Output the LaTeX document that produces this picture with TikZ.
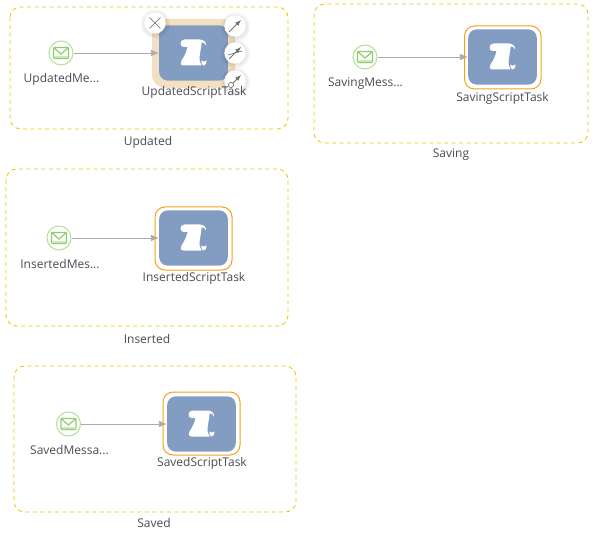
\documentclass[tikz,border=0pt]{standalone}
\usepackage{fontspec}
\setmainfont{Open Sans}
\usetikzlibrary{arrows.meta}
\definecolor{framey}{HTML}{EBC800}
\definecolor{taskblue}{HTML}{839DC2}
\definecolor{sel}{HTML}{F8A01C}
\definecolor{beige}{HTML}{F3DFC1}
\definecolor{evgreen}{HTML}{B4E09A}
\definecolor{envgreen}{HTML}{8CCF6C}
\definecolor{flow}{HTML}{ABABAB}
\definecolor{txt}{HTML}{4A4A55}
\tikzset{
 x=0.75pt,y=-0.75pt,
 frame/.style={draw=framey,dash pattern=on 3pt off 2.6pt,line width=0.65pt,rounded corners=8pt},
 lbl/.style={font=\fontsize{9pt}{11pt}\selectfont,text=txt,inner sep=0pt},
 ev/.style={circle,draw=evgreen,fill=white,line width=0.75pt,minimum size=18pt,inner sep=0pt},
 task/.style={rectangle,rounded corners=6.5pt,fill=taskblue,minimum width=51.5pt,minimum height=41.5pt,inner sep=0pt},
 flowline/.style={draw=flow,line width=0.6pt,-{Latex[length=6pt,width=5pt]}},
 ring/.style={draw=sel,line width=0.75pt,fill=white,rounded corners=7.5pt},
 tool/.style={circle,fill=white,minimum size=16pt,inner sep=0pt},
}
\newcommand{\scrollicon}[2]{%
 \begin{scope}[shift={(#1,#2)}]
 \fill[white] (-9,-13.5) -- (6,-13.5) .. controls (11,-13.5) and (13,-10) .. (12.5,-7.5)
   .. controls (11.5,-10) and (10,-11) .. (8.2,-10.5)
   -- (6.2,3) .. controls (5.8,7) and (6.2,10) .. (8,12.5)
   -- (-10,12.5) .. controls (-13,12.5) and (-13.5,9.5) .. (-12,7.5)
   .. controls (-9,3) and (-7,-1) .. (-6,-6)
   -- (-10,-6) .. controls (-14,-6) and (-14,-13.5) .. (-9,-13.5) -- cycle;
 \fill[white] (7.8,7.5) .. controls (9,9) and (11,9) .. (13,7.5)
   .. controls (13,11) and (11.5,12.5) .. (9.8,12.5)
   .. controls (8.3,12) and (7.6,10) .. (7.8,7.5) -- cycle;
 \end{scope}}
\newcommand{\envicon}[2]{%
 \begin{scope}[shift={(#1,#2)}]
 \draw[envgreen,line width=0.9pt,rounded corners=0.8pt,fill=white] (-7.5,-5.5) rectangle (7.5,5.5);
 \fill[envgreen!45] (-7,3.4) rectangle (7,5);
 \draw[envgreen,line width=0.9pt] (-7.5,-5.5) -- (0,1) -- (7.5,-5.5);
 \end{scope}}
\newcommand{\softshadow}[2]{%
 \foreach \r in {15,14.5,14,13.5,13,12.5,12,11.5}{\fill[black,opacity=0.012] (#1+0.5,#2+1) circle (\r);}}
\begin{document}
\begin{tikzpicture}
\useasboundingbox (0,0) rectangle (598,534);
% frames
\draw[frame] (10,7) rectangle (288,129);
\draw[frame] (314,4) rectangle (588,143);
\draw[frame] (6,169) rectangle (288,326);
\draw[frame] (14,366) rectangle (296,512);
\node[lbl] (lu) at (148,142) {Updated};
\node[lbl] (ls) at (451,155) {Saving};
\node[lbl] (li) at (147,338.5) {Inserted};
\node[lbl] (lv) at (154,523) {Saved};
% Updated
\fill[beige,rounded corners=10pt] (152,19) rectangle (235,88);
\node[task] (tu) at (193.5,53) {};
\scrollicon{193.5}{53}
\node[ev] (eu) at (61,53) {};
\envicon{61}{53}
\draw[flowline] (eu) -- (tu.west);
\node[lbl] (nu) at (61.5,79.5) {UpdatedMe...};
% Saving
\draw[ring] (464.5,26) rectangle (541,89);
\node[task] (ts) at (502.5,57) {};
\scrollicon{502.5}{57}
\node[ev] (es) at (365,57) {};
\envicon{365}{57}
\draw[flowline] (es) -- (ts.west);
\node[lbl] (ns) at (365.5,84) {SavingMess...};
\node[lbl] (ms) at (502.5,98) {SavingScriptTask};
% Inserted
\draw[ring] (155,207) rectangle (232,270);
\node[task] (ti) at (193.5,238) {};
\scrollicon{193.5}{238}
\node[ev] (ei) at (59,238) {};
\envicon{59}{238}
\draw[flowline] (ei) -- (ti.west);
\node[lbl] (ni) at (60,264.5) {InsertedMes...};
\node[lbl] (mi) at (194,278.5) {InsertedScriptTask};
% Saved
\draw[ring] (163,392) rectangle (240,455);
\node[task] (tv) at (201.5,424) {};
\scrollicon{201.5}{424}
\node[ev] (ev1) at (68.5,424) {};
\envicon{68.5}{424}
\draw[flowline] (ev1) -- (tv.west);
\node[lbl] (nv) at (69.5,450) {SavedMessa...};
\node[lbl] (mv) at (202,463.5) {SavedScriptTask};
% selection tools
\softshadow{155}{23}
\softshadow{235}{26}
\softshadow{235}{53}
\softshadow{235}{81}
\node[tool] (tx) at (155,23) {};
\draw[black!60,line width=0.45pt] (149.5,17.5) -- (160.5,28.5) (160.5,17.5) -- (149.5,28.5);
\node[tool] (t1) at (235,26) {};
\draw[black!55,line width=0.6pt,-{Latex[length=4.5pt,width=3.5pt]}] (229,32) -- (241,20);
\node[tool] (t2) at (235,53) {};
\draw[black!55,line width=0.6pt,-{Latex[length=4.5pt,width=3.5pt]}] (229,59) -- (241,47);
\draw[black!55,line width=0.5pt] (228,55) -- (242,51);
\node[tool] (t3) at (235,81) {};
\draw[black!55,line width=0.6pt,-{Latex[length=4.5pt,width=3.5pt]}] (231,85) -- (241,75);
\draw[black!55,line width=0.5pt,fill=white] (231,85) circle (2.6);
\node[lbl] (mu) at (194,92.5) {UpdatedScriptTask};
\end{tikzpicture}
\end{document}
